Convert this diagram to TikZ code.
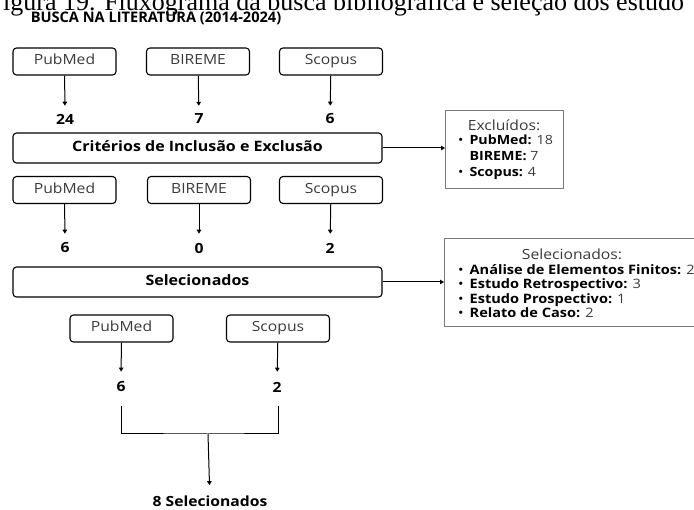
\documentclass[tikz,border=0pt]{standalone}
\usepackage{fontspec}
\setmainfont{Open Sans}[FakeStretch=1.12]
\newfontfamily\titlefont{Open Sans}
\newfontfamily\capfont{Liberation Serif}
\usetikzlibrary{arrows.meta}
\definecolor{txtgray}{HTML}{3A3A3A}
\definecolor{boxgray}{HTML}{7A7A7A}

\begin{document}
\begin{tikzpicture}[x=1pt, y=-1pt,
    base/.style={draw, line width=1.1pt, rounded corners=3.5pt, inner sep=0pt, text height=10pt, text depth=3pt},
    src/.style={base, minimum width=103pt, minimum height=27pt, font=\fontsize{14}{16}\selectfont, text=txtgray},
    wide/.style={base, minimum width=369pt, minimum height=30pt, font=\fontsize{14.3}{16}\selectfont\bfseries},
    num/.style={font=\fontsize{14}{16}\selectfont\bfseries, inner sep=0pt},
    note/.style={draw=boxgray, line width=1pt, inner sep=0pt, anchor=north west},
    notetxt/.style={font=\fontsize{14}{16}\selectfont, text=txtgray, inner sep=0pt},
    arr/.style={-{Triangle[length=4pt,width=4.5pt]}, line width=1pt},
    line/.style={line width=1pt}]
  \useasboundingbox (0,0) rectangle (694,510);

  \node[font=\capfont\fontsize{26}{28}\selectfont, anchor=base west, inner sep=0pt] (cap) at (3,11) {igura 19. Fluxograma da busca bibliográfica e seleção dos estudo};
  \node[num, font=\titlefont\fontsize{14.6}{17}\selectfont\bfseries] (title) at (156,18.5) {BUSCA NA LITERATURA (2014-2024)};

  \node[src] (pub1) at (64.5,61.5) {PubMed};
  \node[src] (bir1) at (198,61.5) {BIREME};
  \node[src] (sco1) at (331,61.5) {Scopus};
  \node[num] (n1a) at (65,119) {24};
  \node[num] (n1b) at (199,119) {7};
  \node[num] (n1c) at (330,119) {6};
  \draw[arr, shorten >=8pt] (pub1) -- (n1a);
  \draw[arr, shorten >=8pt] (bir1) -- (n1b);
  \draw[arr, shorten >=8pt] (sco1) -- (n1c);

  \node[wide] (crit) at (197.5,148) {Critérios de Inclusão e Exclusão};
  \node[note, minimum width=118pt, minimum height=78pt] (excl) at (445,110) {};
  \draw[arr] (crit.east) -- (crit.east -| excl.west);
  \node[notetxt] (exclhead) at (504,125) {Excluídos:};
  \node[notetxt, anchor=west] (excllist) at (458,157) {%
    \fontsize{12.7}{16}\selectfont
    \begin{tabular}{@{}l@{\hspace{6pt}}l@{}}
      \textcolor{black}{\textbullet} & \textcolor{black}{\textbf{PubMed:}} 18\\
       & \textcolor{black}{\textbf{BIREME:}} 7\\
      \textcolor{black}{\textbullet} & \textcolor{black}{\textbf{Scopus:}} 4
    \end{tabular}};

  \node[src] (pub2) at (64.5,190) {PubMed};
  \node[src] (bir2) at (199,190) {BIREME};
  \node[src] (sco2) at (331,190) {Scopus};
  \node[num] (n2a) at (65,248) {6};
  \node[num] (n2b) at (199,248) {0};
  \node[num] (n2c) at (330,248) {2};
  \draw[arr, shorten >=9pt] (pub2) -- (n2a);
  \draw[arr, shorten >=9pt] (bir2) -- (n2b);
  \draw[arr, shorten >=9pt] (sco2) -- (n2c);

  \node[wide] (sel) at (197.5,282) {Selecionados};
  \node[note, minimum width=262pt, minimum height=88pt] (selbox) at (444,238) {};
  \draw[arr] (sel.east) -- (sel.east -| selbox.west);
  \node[notetxt] (selhead) at (572,254) {Selecionados:};
  \node[notetxt, anchor=north west] (sellist) at (458,264) {%
    \fontsize{13}{14.4}\selectfont
    \begin{tabular}{@{}l@{\hspace{6pt}}l@{}}
      \textcolor{black}{\textbullet} & \textcolor{black}{\textbf{Análise de Elementos Finitos:}} 2\\
      \textcolor{black}{\textbullet} & \textcolor{black}{\textbf{Estudo Retrospectivo:}} 3\\
      \textcolor{black}{\textbullet} & \textcolor{black}{\textbf{Estudo Prospectivo:}} 1\\
      \textcolor{black}{\textbullet} & \textcolor{black}{\textbf{Relato de Caso:}} 2
    \end{tabular}};

  \node[src] (pub3) at (121.5,328.5) {PubMed};
  \node[src] (sco3) at (278,328.5) {Scopus};
  \node[num] (n3a) at (121,387) {6};
  \node[num] (n3b) at (277,387) {2};
  \draw[arr, shorten >=10pt] (pub3) -- (n3a);
  \draw[arr, shorten >=10pt] (sco3) -- (n3b);

  \coordinate (bl) at (121,406);
  \coordinate (br) at (278,406);
  \coordinate (j) at (208,434);
  \draw[line] (bl) |- (j) -| (br);
  \node[num, anchor=base] (total) at (210,507) {8 Selecionados};
  \draw[arr, shorten >=11pt] (j) -- (total);
\end{tikzpicture}
\end{document}
